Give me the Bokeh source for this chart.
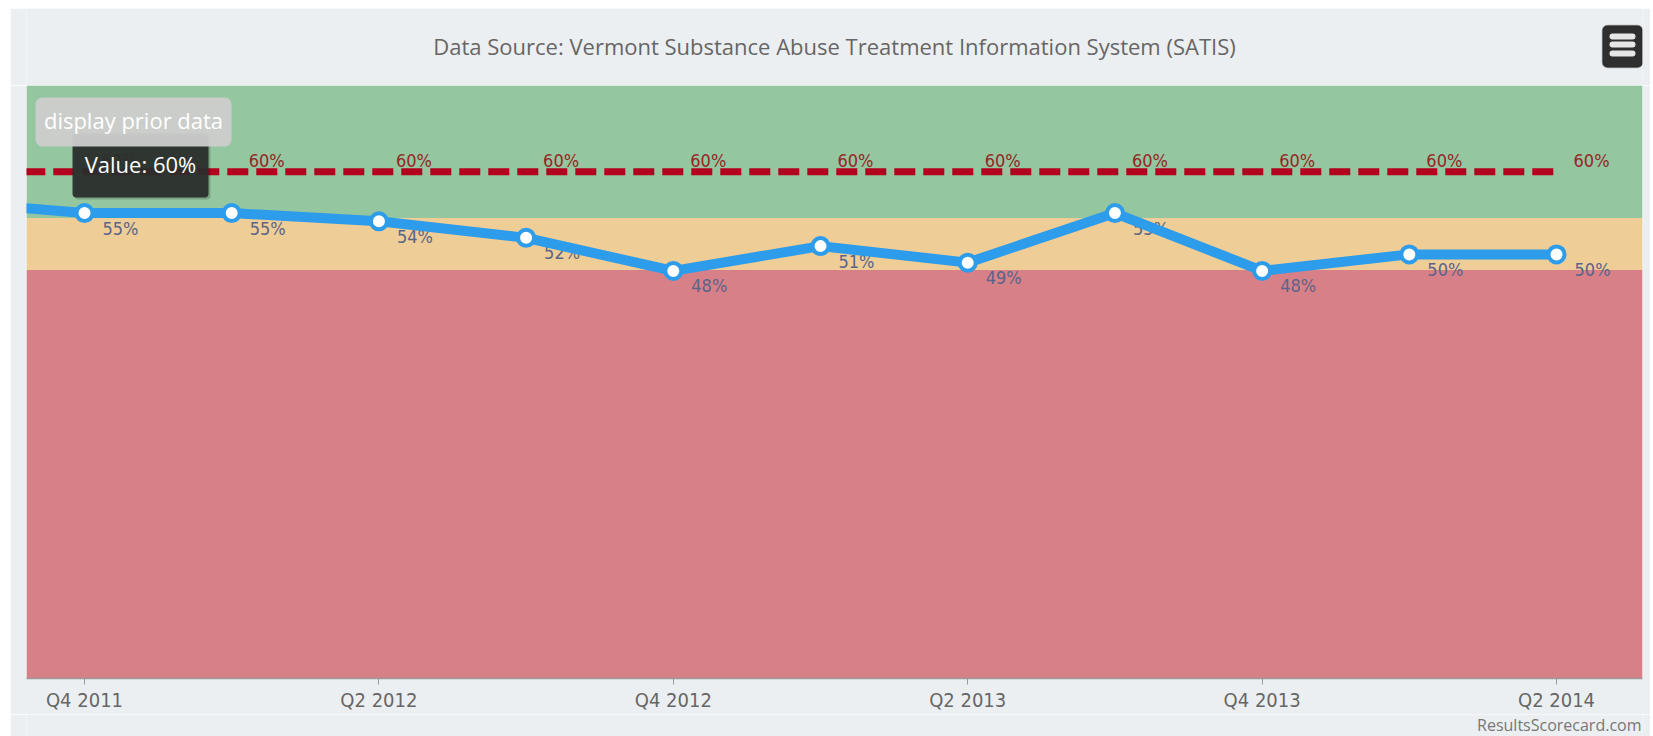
from bokeh.plotting import figure
from bokeh.layouts import column
from bokeh.models import Range1d, FixedTicker, BoxAnnotation, Label
from bokeh.core.properties import value
from bokeh.embed import file_html
from bokeh.resources import INLINE

# ---- data ----
quarters = ["Q4 2011", "Q1 2012", "Q2 2012", "Q3 2012", "Q4 2012", "Q1 2013",
            "Q2 2013", "Q3 2013", "Q4 2013", "Q1 2014", "Q2 2014"]
values = [55, 55, 54, 52, 48, 51, 49, 55, 48, 50, 50]
targets = [60, 60, 60, 60, 60, 60, 60, 60, 60, 60, 60]
prior_value = 56.5          # Q3 2011, only its segment is visible
prior_target = 60
tick_every = 2
band_edges = [48.1, 54.4]   # red below first, yellow between, green above
y_min, y_max = -1.33, 70.44
title_text = "Data Source: Vermont Substance Abuse Treatment Information System (SATIS)"
credit_text = "ResultsScorecard.com"
tooltip_text = "Value: 60%"
button_text = "display prior data"

# ---- styles ----
PANEL = "#ECEFF1"
GREEN, YELLOW, RED = "#94C79F", "#EFCD96", "#D88088"
BLUE = "#2D9CEB"
TARGET = "#B3001E"
NARROW = "'DejaVu Sans Condensed', 'Open Sans'"
W = 1640

def cbox(fig, l, r, t, b, **kw):
    fig.add_layout(BoxAnnotation(left=l, right=r, top=t, bottom=b,
                                 left_units="canvas", right_units="canvas",
                                 top_units="canvas", bottom_units="canvas", **kw))

def blank(h):
    f = figure(width=W, height=h, output_backend="svg", toolbar_location=None,
               x_range=Range1d(0, 1), y_range=Range1d(0, 1),
               x_axis_location=None, y_axis_location=None, min_border=0,
               border_fill_color=PANEL, background_fill_color=PANEL, outline_line_color=None)
    f.xgrid.visible = False
    f.ygrid.visible = False
    return f

# ---- header: title + menu icon ----
top = blank(77)
top.add_layout(Label(x=808, y=40, x_units="screen", y_units="screen", text=title_text,
                     text_align="center", text_baseline="middle", text_font="Open Sans",
                     text_font_size="22px", text_color="#666666"))
cbox(top, 1592, 1632, 17, 59, fill_color="#2F2F2F", fill_alpha=1,
     line_color="#111111", line_width=1.5, border_radius=5)
for cy in (28, 36, 45):
    cbox(top, 1599, 1625, cy - 3, cy + 3, fill_color="#E6E6E6", fill_alpha=1,
         line_color=None, border_radius=3)

# ---- main chart ----
p = figure(width=W, height=629, output_backend="svg", toolbar_location=None,
           x_range=Range1d(-0.394, 10.584), y_range=Range1d(y_min, y_max),
           y_axis_location=None,
           min_border_left=16, min_border_right=8, min_border_top=0, min_border_bottom=34,
           border_fill_color=PANEL, background_fill_color=PANEL, outline_line_color=None)
p.xgrid.visible = False
p.ygrid.visible = False

p.add_layout(BoxAnnotation(top=band_edges[0], fill_color=RED, fill_alpha=1, line_color=None, level="underlay"))
p.add_layout(BoxAnnotation(bottom=band_edges[0], top=band_edges[1], fill_color=YELLOW, fill_alpha=1, line_color=None, level="underlay"))
p.add_layout(BoxAnnotation(bottom=band_edges[1], fill_color=GREEN, fill_alpha=1, line_color=None, level="underlay"))

idx = list(range(len(quarters)))
xs_full = [-1] + idx
ys_full = [prior_value] + values
ts_full = [prior_target] + targets

ax = p.xaxis[0]
ax.ticker = FixedTicker(ticks=idx[::tick_every])
ax.major_label_overrides = {i: quarters[i] for i in idx[::tick_every]}
ax.minor_tick_line_color = None
ax.axis_line_color = "#999999"
ax.axis_line_width = 1.5
ax.major_tick_line_color = "#999999"
ax.major_tick_out = 6
ax.major_tick_in = 0
ax.major_label_standoff = 3
ax.major_label_text_font = NARROW
ax.major_label_text_font_size = "20px"
ax.major_label_text_color = "#666666"

p.text(x=idx, y=targets, text=[f"{t}%" for t in targets], x_offset=35, y_offset=-11,
       text_align="center", text_baseline="middle", text_font=value(NARROW),
       text_font_size="18px", text_color="#952626")
p.line(xs_full, ts_full, line_color=TARGET, line_width=7, line_dash="21 8")

p.text(x=idx, y=values, text=[f"{v}%" for v in values], x_offset=36, y_offset=15,
       text_align="center", text_baseline="middle", text_font=value(NARROW),
       text_font_size="18px", text_color="#5a6488")
p.line(xs_full, ys_full, line_color=BLUE, line_width=10, line_join="round")
p.scatter(idx, values, size=16, fill_color="white", line_color=BLUE, line_width=4)

# tooltip
cbox(p, 64, 200, 50, 114, fill_color="black", fill_alpha=0.18, line_color=None, border_radius=4)
cbox(p, 62, 198, 48, 112, fill_color="#2B2F2D", fill_alpha=0.94, line_color=None, border_radius=4)
p.add_layout(Label(x=114, y=515, x_units="screen", y_units="screen", text=tooltip_text,
                   text_align="center", text_baseline="middle", text_font="Open Sans",
                   text_font_size="22px", text_color="white"))
# button
cbox(p, 25, 221, 12, 61, fill_color="#CDCDCD", fill_alpha=0.95, line_color=None, border_radius=7)
p.add_layout(Label(x=107, y=559, x_units="screen", y_units="screen", text=button_text,
                   text_align="center", text_baseline="middle", text_font="Open Sans",
                   text_font_size="22px", text_color="white"))

# ---- footer: credit ----
bot = blank(22)
bot.add_layout(Label(x=1615, y=12, x_units="screen", y_units="screen", text=credit_text,
                     text_align="right", text_baseline="middle", text_font="Open Sans",
                     text_font_size="16px", text_color="#777777"))

layout = column(top, p, bot, spacing=0, margin=(8, 0, 0, 10))
open("out.html", "w").write(file_html(layout, INLINE))
